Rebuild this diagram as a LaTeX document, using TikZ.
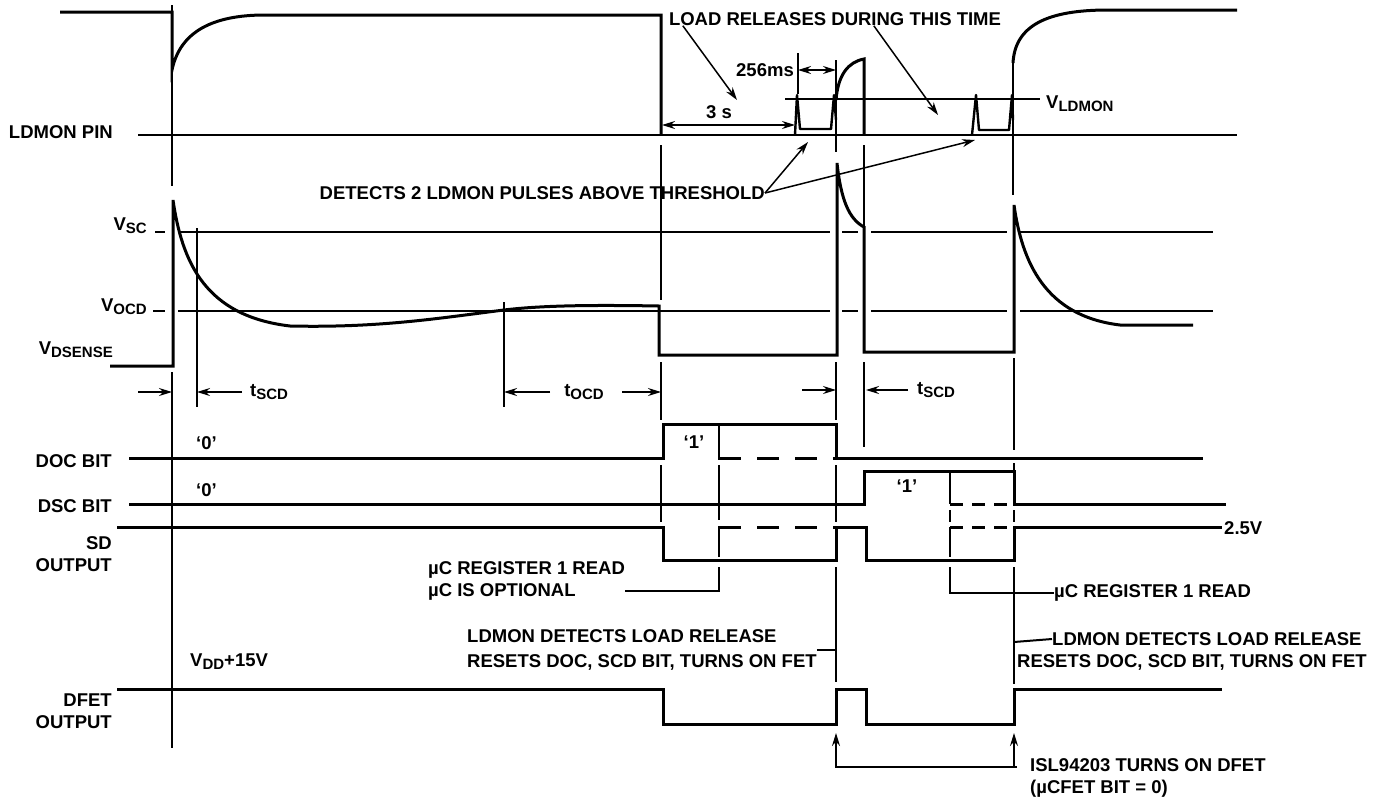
\documentclass[tikz,border=0pt]{standalone}
\usepackage{fontspec}
\setmainfont{Liberation Sans}
\usepackage{tikz}
\usetikzlibrary{arrows,arrows.meta,positioning,calc}
\newcommand{\lowsub}[1]{\raisebox{-3pt}{\fontsize{15}{15}\selectfont #1}}

\begin{document}
\begin{tikzpicture}[
    x=1pt, y=-1pt,
    font=\bfseries\fontsize{18.5}{22}\selectfont,
    wave/.style={draw=black, line width=3pt, line join=miter},
    pulse/.style={draw=black, line width=2.4pt, line join=round},
    guide/.style={draw=black, line width=2pt},
    level/.style={draw=black, line width=2pt},
    longdash/.style={draw=black, line width=3pt, dash pattern=on 22pt off 16pt},
    shortdash/.style={draw=black, line width=3pt, dash pattern=on 13pt off 9pt},
    note/.style={->, >={Stealth[length=13pt,width=8pt]}, draw=black, line width=1.5pt},
    span/.style={<->, >={Stealth[length=13pt,width=8pt]}, draw=black, line width=1.5pt},
    tag/.style={inner sep=0pt, align=left},
    rowlabel/.style={inner sep=0pt, anchor=east, align=right}
]
    \useasboundingbox (0,0) rectangle (1397,798);

    % row names
    \node[rowlabel] (ldmonpin) at (113,132) {LDMON PIN};
    \node[rowlabel] (vsc) at (147,226) {V\lowsub{SC}};
    \node[rowlabel] (vocd) at (147,307) {V\lowsub{OCD}};
    \node[rowlabel] (vdsense) at (113,350) {V\lowsub{DSENSE}};
    \node[rowlabel] (docbit) at (112,461) {DOC BIT};
    \node[rowlabel] (dscbit) at (112,506) {DSC BIT};
    \node[rowlabel] (sdout) at (112,554) {SD\\OUTPUT};
    \node[rowlabel] (dfetout) at (112,711) {DFET\\OUTPUT};

    % notes
    \node[tag] (loadrel) at (835,19) {LOAD RELEASES DURING THIS TIME};
    \node[tag, anchor=east] (ms256) at (794,70) {256ms};
    \node[tag] (three) at (719,112) {3 s};
    \node[tag, anchor=east] (detects) at (765,193) {DETECTS 2 LDMON PULSES ABOVE THRESHOLD};
    \node[tag, anchor=west] (vldmon) at (1046,104) {V\lowsub{LDMON}};
    \node[tag, anchor=west] (tscdA) at (250,392) {t\lowsub{SCD}};
    \node[tag] (tocd) at (584,392) {t\lowsub{OCD}};
    \node[tag, anchor=west] (tscdB) at (917,390) {t\lowsub{SCD}};
    \node[tag, anchor=west] (zeroA) at (196,443) {‘0’};
    \node[tag, anchor=west] (zeroB) at (196,490) {‘0’};
    \node[tag] (oneA) at (694,442) {‘1’};
    \node[tag] (oneB) at (907,486) {‘1’};
    \node[tag, anchor=west] (twofive) at (1224,528) {2.5V};
    \node[tag, anchor=west] (readA) at (428,581) {µC REGISTER 1 READ\\µC IS OPTIONAL};
    \node[tag, anchor=west] (readB) at (1054,593) {µC REGISTER 1 READ};
    \node[tag, anchor=west] (vdd) at (190,662) {V\lowsub{DD}+15V};
    \node[tag, anchor=west] (releaseA) at (467,650) {LDMON DETECTS LOAD RELEASE\\[3pt]RESETS DOC, SCD BIT, TURNS ON FET};
    \node[tag, anchor=west] (releaseB) at (1052,639) {LDMON DETECTS LOAD RELEASE};
    \node[tag, anchor=west] (resetB) at (1017,662) {RESETS DOC, SCD BIT, TURNS ON FET};
    \node[tag, anchor=west] (isl) at (1030,778) {ISL94203 TURNS ON DFET\\(µCFET BIT = 0)};

    \coordinate (relA) at (737,100);
    \coordinate (relB) at (938,115);
    \coordinate (pulseA) at (808,142);
    \coordinate (pulseB) at (975,140);
    \coordinate (s3a) at (662,125);
    \coordinate (s3b) at (795,125);
    \coordinate (msa) at (798,70);
    \coordinate (msb) at (836,70);
    \coordinate (tsa0) at (138,392);
    \coordinate (tsa1) at (172,392);
    \coordinate (tsa2) at (242,392);
    \coordinate (tsa3) at (197,392);
    \coordinate (toa0) at (550,392);
    \coordinate (toa1) at (504,392);
    \coordinate (toa2) at (622,392);
    \coordinate (toa3) at (661,392);
    \coordinate (tsb0) at (802,390);
    \coordinate (tsb1) at (836,390);
    \coordinate (tsb2) at (908,390);
    \coordinate (tsb3) at (866,390);
    \coordinate (islA) at (836,733);
    \coordinate (islB) at (1014,733);
    \coordinate (islC) at (1017,767);
    \coordinate (islD) at (1014,767);

    % time markers
    \draw[guide] (172,5) -- (172,186) (172,372) -- (172,748);
    \draw[guide] (197,228) -- (197,407);
    \draw[guide] (504,302) -- (504,407);
    \draw[guide] (661,145) -- (661,300) (661,362) -- (661,420) (661,465) -- (661,522);
    \draw[guide] (798,53) -- (798,94);
    \draw[guide] (836,60) -- (836,152) (836,362) -- (836,420) (836,465) -- (836,522) (836,567) -- (836,682);
    \draw[guide] (864,145) -- (864,227) (864,362) -- (864,447);
    \draw[guide] (1013,63) -- (1013,195);
    \draw[guide] (1014,358) -- (1014,450) (1014,463) -- (1014,471) (1014,510) -- (1014,522) (1014,567) -- (1014,684);
    \draw[guide] (719,425) -- (719,460) (719,465) -- (719,520) (719,526) -- (719,557) (719,567) |- (readA.east |- 0,591);
    \draw[guide] (950,473) -- (950,504) (950,510) -- (950,522) (950,527) -- (950,557) (950,567) |- (readB.west);
    \draw[guide] (releaseA.east |- 0,650) -- (836,650);
    \draw[guide] (1014,642) -- (releaseB.west);

    % levels
    \draw[level] (138,135) -- (1237,135);
    \draw[level] (785,99) -- (1040,99);
    \draw[level] (155,232) -- (165,232) (178,232) -- (830,232) (842,232) -- (858,232) (871,232) -- (1007,232) (1020,232) -- (1213,232);
    \draw[level] (153,311) -- (165,311) (178,311) -- (830,311) (842,311) -- (858,311) (871,311) -- (1007,311) (1020,311) -- (1213,311);

    % LDMON pin
    \draw[wave] (60,12) -- (172,12) -- (172,70) .. controls (180,32) and (212,15) .. (265,15) -- (661,15) -- (661,135);
    \draw[pulse] (795,135) -- (797,95) -- (800,129) -- (831,129) -- (834,95) -- (836,120);
    \draw[wave] (836,100) .. controls (838,75) and (848,62) .. (864,59) -- (864,135);
    \draw[pulse] (972,135) -- (976,95) -- (979,130) -- (1009,130) -- (1012,95) -- (1013,120);
    \draw[wave] (1013,63) .. controls (1015,25) and (1048,10) .. (1108,10) -- (1237,10);

    % sense voltage
    \draw[wave] (110,366) -- (173,366) -- (173,200) .. controls (182,262) and (205,316) .. (290,326)
        .. controls (380,328) and (440,318) .. (504,310) .. controls (545,305) and (600,305) .. (659,306)
        -- (659,355) -- (837,355) -- (837,163) .. controls (841,200) and (849,219) .. (864,227)
        -- (864,352) -- (1014,352) -- (1014,205) .. controls (1022,262) and (1045,316) .. (1120,325) -- (1193,325);

    % bits and outputs
    \draw[wave] (129,458) -- (663,458) -- (663,424) -- (836,424) -- (836,458) -- (1203,458);
    \draw[wave] (129,504) -- (864,504) -- (864,471) -- (1014,471) -- (1014,504) -- (1226,504);
    \draw[wave] (117,527) -- (663,527) -- (663,560) -- (836,560) -- (836,527) -- (866,527) -- (866,560) -- (1014,560) -- (1014,527) -- (1222,527);
    \draw[wave] (117,689) -- (663,689) -- (663,724) -- (836,724) -- (836,689) -- (866,689) -- (866,724) -- (1014,724) -- (1014,689) -- (1222,689);
    \draw[longdash] (719,458) -- (836,458);
    \draw[longdash] (719,527) -- (836,527);
    \draw[shortdash] (950,504) -- (1014,504);
    \draw[shortdash] (950,527) -- (1014,527);

    % annotations
    \draw[note] ([xshift=14pt]loadrel.south west) -- (relA);
    \draw[note] ([xshift=205pt]loadrel.south west) -- (relB);
    \draw[note] (detects.east) -- (pulseA);
    \draw[note] (detects.east) -- (pulseB);
    \draw[span] (s3a) -- (s3b);
    \draw[span] (msa) -- (msb);
    \draw[note] (tsa0) -- (tsa1);
    \draw[note] (tsa2) -- (tsa3);
    \draw[note] (toa0) -- (toa1);
    \draw[note] (toa2) -- (toa3);
    \draw[note] (tsb0) -- (tsb1);
    \draw[note] (tsb2) -- (tsb3);
    \draw[note] (islC) -| (islA);
    \draw[note] (islD) -- (islB);

\end{tikzpicture}
\end{document}
